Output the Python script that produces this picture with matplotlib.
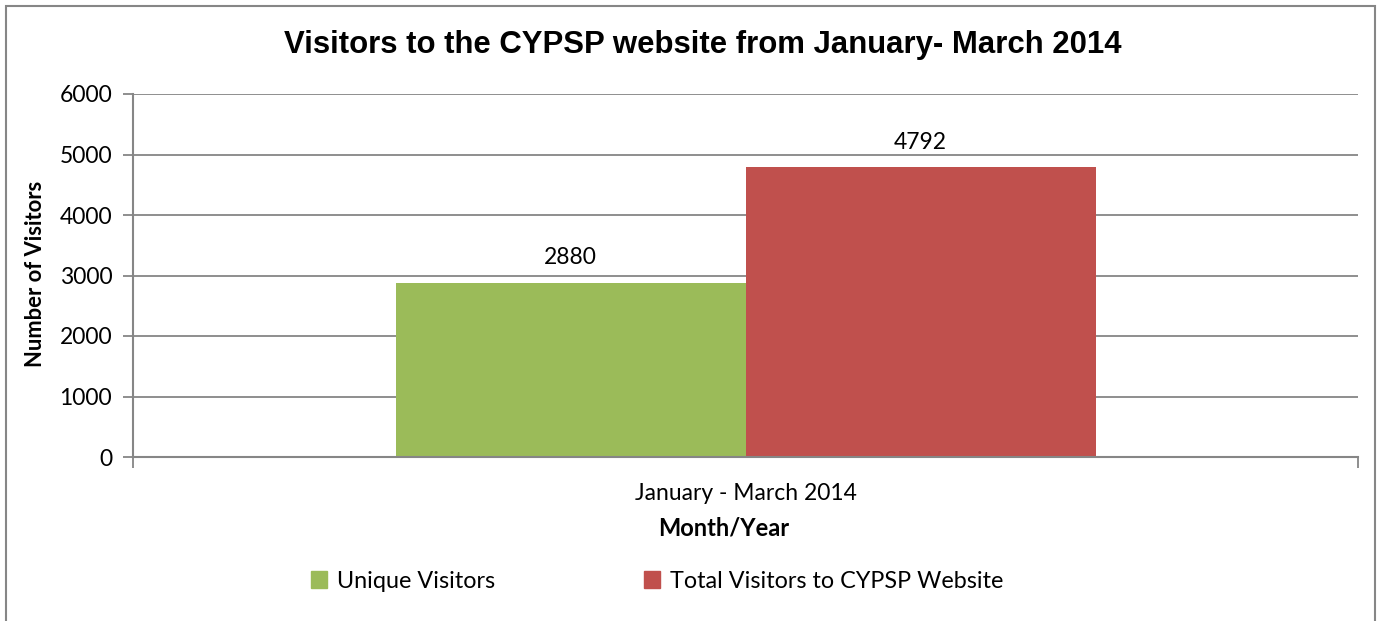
import matplotlib.pyplot as plt
from matplotlib.patches import Rectangle, Patch

# datos
categorias = ["January - March 2014"]
series = ["Unique Visitors", "Total Visitors to CYPSP Website"]
valores = [2880, 4792]
colores = ["#9BBB59", "#C0504D"]
yticks = [0, 1000, 2000, 3000, 4000, 5000, 6000]

W, H = 1378, 621
fig = plt.figure(figsize=(W / 100, H / 100), dpi=100)
fuente = "Lato"

# borde exterior del gráfico
fig.patches.append(Rectangle((6 / W, -0.01), (1375 - 6) / W, (H - 6) / H + 0.01,
                             transform=fig.transFigure, fill=False,
                             edgecolor="#868686", linewidth=1.5))

# área de trazado en píxeles
izq, arriba, der, abajo = 133, 94, 1358, 457
ax = fig.add_axes([izq / W, (H - abajo) / H, (der - izq) / W, (abajo - arriba) / H])

ancho = 350 / 1225
x0 = 0
for i, (nombre, v, c) in enumerate(zip(series, valores, colores)):
    pos = x0 + (i - 0.5) * ancho
    ax.bar(pos, v, width=ancho, color=c, label=nombre, zorder=2)
    ax.text(pos, v + 240, str(v), ha="center", va="bottom",
            fontsize=16.5, family=fuente, color="black")

ax.set_xlim(-0.5, 0.5)
ax.set_ylim(0, 6000)
ax.set_yticks(yticks)
ax.set_yticklabels([str(t) for t in yticks], family=fuente, fontsize=16.5)
ax.yaxis.grid(True, color="#868686", linewidth=1.3, zorder=0)
ax.set_axisbelow(True)

ax.set_xticks([0])
ax.set_xticklabels(categorias, family=fuente, fontsize=16.5)
ax.tick_params(axis="x", length=0, pad=19)
# marcas en los límites de la categoría
ax.set_xticks([-0.5, 0.5], minor=True)
ax.tick_params(axis="x", which="minor", length=8, color="#868686", width=1.3)
ax.tick_params(axis="y", length=7, color="#868686", width=1.3, pad=8)

for s in ["top", "right"]:
    ax.spines[s].set_visible(False)
for s in ["left", "bottom"]:
    ax.spines[s].set_color("#868686")
    ax.spines[s].set_linewidth(1.5)

ax.set_xlabel("Month/Year", family=fuente, fontsize=17, fontweight="bold")
ax.xaxis.set_label_coords((724 - izq) / (der - izq), -(528 - abajo) / (abajo - arriba), )
ax.xaxis.label.set_va("center")
ax.set_ylabel("Number of Visitors", family=fuente, fontsize=15.8, fontweight="bold")
ax.yaxis.set_label_coords(-(izq - 36) / (der - izq), (abajo - 274) / (abajo - arriba))
ax.yaxis.label.set_va("center")

fig.text(703 / W, 1 - 45 / H, "Visitors to the CYPSP website from January- March 2014",
         ha="center", va="center", family="Liberation Sans", fontsize=22.4, fontweight="bold")

manejadores = [Patch(color=c, label=n) for n, c in zip(series, colores)]
fig.legend(handles=manejadores, loc="center", bbox_to_anchor=(657 / W, 1 - 581 / H),
           ncol=2, frameon=False, prop={"family": fuente, "size": 16.8},
           handlelength=0.7, handleheight=0.7, handletextpad=0.4, columnspacing=6.4)

plt.savefig("out.png", dpi=100)
plt.close()
